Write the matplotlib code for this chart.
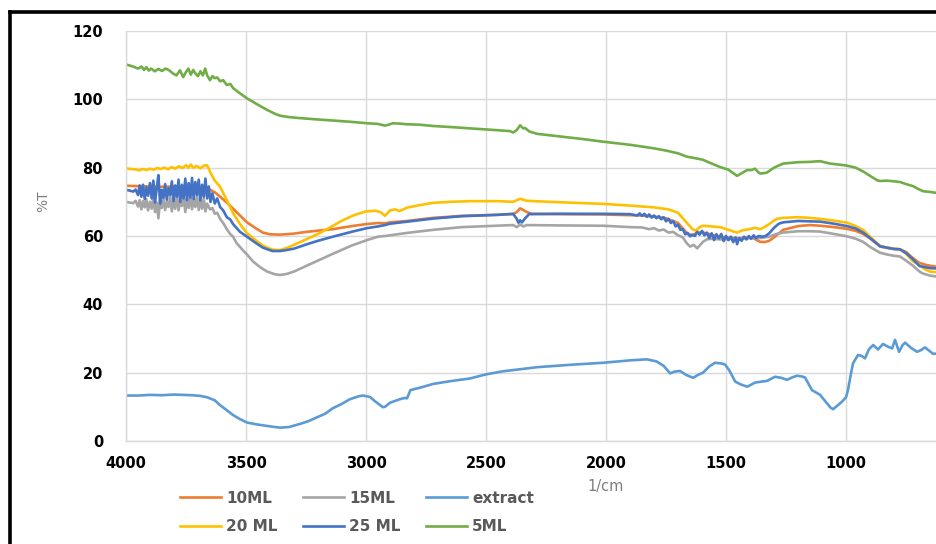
import matplotlib
matplotlib.use("Agg")
import matplotlib.pyplot as plt
from matplotlib.lines import Line2D

# wavenumber (1/cm) and %T
wn_5 = [4000, 3970, 3950, 3935, 3925, 3915, 3905, 3895, 3880, 3865, 3850, 3835, 3820, 3805, 3790,
        3775, 3762, 3750, 3740, 3730, 3720, 3710, 3700, 3690, 3680, 3670, 3662, 3650, 3640, 3630,
        3620, 3608, 3595, 3580, 3565, 3554, 3530, 3496, 3450, 3412, 3380, 3358, 3320, 3275, 3200,
        3138, 3060, 2996, 2950, 2921, 2905, 2888, 2860, 2829, 2780, 2721, 2650, 2567, 2480, 2400,
        2387, 2372, 2358, 2345, 2337, 2320, 2287, 2200, 2100, 2012, 1900, 1804, 1750, 1700, 1662,
        1630, 1596, 1560, 1525, 1490, 1454, 1430, 1412, 1395, 1379, 1365, 1358, 1340, 1329, 1300,
        1262, 1200, 1150, 1108, 1085, 1067, 1030, 996, 960, 929, 900, 870, 858, 830, 800, 775, 750,
        721, 700, 679, 650, 621]
t_5 = [110.2, 109.6, 109.0, 109.6, 108.6, 109.4, 108.4, 109.0, 108.2, 108.9, 108.3, 109.0, 108.5,
       107.6, 107.0, 108.5, 106.5, 108.0, 109.0, 107.2, 108.6, 107.5, 106.8, 108.2, 107.0, 109.0,
       107.0, 105.6, 106.8, 106.2, 106.4, 105.3, 105.6, 104.2, 104.5, 103.3, 102.0, 100.3, 98.4,
       96.9, 95.8, 95.2, 94.8, 94.5, 94.1, 93.8, 93.4, 93.0, 92.8, 92.3, 92.6, 93.0, 92.9, 92.7,
       92.6, 92.2, 91.9, 91.5, 91.1, 90.7, 90.3, 91.0, 92.4, 91.5, 91.6, 90.6, 89.9, 89.2, 88.4,
       87.6, 86.7, 85.7, 85.0, 84.2, 83.2, 82.8, 82.3, 81.2, 80.2, 79.4, 77.6, 78.6, 79.3, 79.3,
       79.7, 78.6, 78.3, 78.4, 78.6, 80.0, 81.2, 81.6, 81.7, 81.9, 81.5, 81.2, 80.9, 80.6, 80.0,
       78.9, 77.6, 76.3, 76.1, 76.2, 76.0, 75.8, 75.2, 74.6, 73.8, 73.1, 72.9, 72.6]

wn_20 = [4000, 3980, 3960, 3945, 3930, 3915, 3900, 3885, 3870, 3855, 3840, 3825, 3810, 3795, 3780,
         3765, 3750, 3740, 3730, 3720, 3705, 3690, 3675, 3662, 3650, 3630, 3608, 3580, 3554, 3525,
         3496, 3460, 3430, 3390, 3358, 3330, 3300, 3250, 3200, 3150, 3100, 3050, 3000, 2960, 2940,
         2921, 2900, 2880, 2860, 2829, 2780, 2721, 2650, 2567, 2450, 2387, 2358, 2330, 2200, 2012,
         1900, 1804, 1740, 1700, 1680, 1660, 1640, 1625, 1610, 1596, 1560, 1525, 1490, 1454, 1430,
         1412, 1390, 1379, 1358, 1340, 1320, 1290, 1262, 1200, 1150, 1108, 1050, 996, 960, 929, 900,
         858, 830, 800, 775, 750, 721, 694, 670, 650, 621]
t_20 = [79.8, 79.6, 79.5, 79.2, 79.6, 79.3, 79.7, 79.4, 79.9, 79.6, 80.0, 79.5, 80.2, 79.7, 80.4,
        79.9, 80.7, 80.0, 80.9, 80.0, 80.5, 79.8, 80.6, 80.7, 78.8, 76.2, 74.4, 70.5, 66.7, 63.5,
        60.8, 58.8, 57.2, 56.0, 55.9, 56.5, 57.4, 59.0, 60.6, 62.5, 64.5, 66.1, 67.2, 67.4, 67.0,
        65.9, 67.5, 67.8, 67.3, 68.3, 69.0, 69.7, 70.0, 70.2, 70.2, 70.0, 70.9, 70.3, 69.9, 69.4,
        68.9, 68.4, 67.8, 66.8, 65.2, 63.6, 62.0, 61.6, 62.6, 63.0, 62.8, 62.6, 61.8, 61.0, 61.7,
        61.9, 62.2, 62.4, 62.0, 62.6, 63.5, 65.0, 65.3, 65.5, 65.3, 65.0, 64.5, 63.9, 62.9, 61.8,
        59.8, 57.1, 56.6, 56.3, 56.1, 54.8, 52.6, 51.5, 50.2, 49.6, 49.4]

wn_10 = [4000, 3950, 3900, 3850, 3800, 3750, 3700, 3662, 3630, 3608, 3580, 3554, 3525, 3496, 3460,
         3430, 3400, 3358, 3300, 3250, 3138, 3050, 2996, 2950, 2921, 2900, 2829, 2721, 2600, 2450,
         2387, 2372, 2358, 2345, 2330, 2310, 2200, 2012, 1850, 1800, 1750, 1700, 1680, 1660, 1640,
         1620, 1596, 1560, 1525, 1490, 1454, 1420, 1390, 1358, 1340, 1320, 1300, 1262, 1200, 1150,
         1108, 1050, 996, 960, 929, 900, 858, 830, 800, 775, 750, 721, 694, 670, 650, 621]
t_10 = [74.7, 74.6, 74.5, 74.4, 74.5, 74.3, 74.2, 74.0, 72.8, 71.5, 69.8, 68.0, 66.0, 64.0, 62.3,
        61.0, 60.5, 60.4, 60.7, 61.2, 62.0, 63.0, 63.5, 63.8, 63.7, 64.0, 64.4, 65.3, 65.9, 66.2,
        66.4, 67.0, 68.1, 67.6, 67.0, 66.5, 66.4, 66.3, 66.0, 65.7, 65.2, 63.8, 62.2, 60.6, 60.2,
        61.0, 61.0, 60.4, 59.8, 59.5, 59.3, 59.5, 59.5, 58.3, 58.2, 58.6, 59.6, 61.8, 62.9, 63.2,
        63.0, 62.6, 62.1, 61.5, 60.6, 59.3, 56.9, 56.5, 56.2, 56.1, 55.3, 53.5, 52.1, 51.6, 51.3,
        51.0]

wn_25 = [4000, 3985, 3970, 3960, 3950, 3943, 3936, 3929, 3922, 3915, 3908, 3900, 3893, 3886, 3879,
         3872, 3865, 3858, 3851, 3844, 3837, 3830, 3823, 3816, 3809, 3802, 3795, 3788, 3781, 3774,
         3767, 3760, 3753, 3746, 3739, 3732, 3725, 3718, 3711, 3704, 3697, 3690, 3683, 3676, 3669,
         3662, 3655, 3648, 3640, 3630, 3620, 3608, 3595, 3580, 3565, 3554, 3525, 3496, 3460, 3430,
         3390, 3358, 3330, 3300, 3250, 3200, 3138, 3050, 2996, 2950, 2921, 2900, 2829, 2721, 2600,
         2450, 2387, 2372, 2365, 2358, 2350, 2337, 2320, 2200, 2012, 1900, 1870, 1860, 1850, 1840,
         1830, 1820, 1810, 1800, 1790, 1780, 1770, 1760, 1750, 1740, 1730, 1720, 1710, 1700, 1690,
         1680, 1670, 1660, 1650, 1640, 1630, 1620, 1610, 1600, 1590, 1580, 1570, 1560, 1550, 1540,
         1530, 1520, 1510, 1500, 1490, 1480, 1470, 1460, 1454, 1445, 1435, 1425, 1415, 1405, 1395,
         1385, 1375, 1365, 1350, 1335, 1320, 1300, 1280, 1262, 1200, 1150, 1108, 1050, 996, 960,
         929, 900, 858, 830, 800, 775, 750, 721, 694, 679, 650, 621]
t_25 = [73.5, 73.3, 73.0, 73.6, 72.0, 74.8, 71.5, 75.0, 70.8, 74.2, 71.8, 75.5, 71.0, 76.2, 69.8,
        74.0, 77.8, 69.5, 73.5, 71.2, 75.2, 70.6, 74.0, 72.0, 76.0, 70.2, 74.8, 71.5, 76.5, 70.0,
        75.0, 71.0, 76.8, 70.5, 75.5, 71.2, 77.0, 70.8, 75.8, 72.0, 76.5, 70.4, 75.0, 71.5, 76.8,
        71.0, 74.5, 70.0, 72.5, 69.5, 71.0, 68.5, 67.5, 65.5, 64.8, 63.5, 61.2, 59.8, 58.0, 56.6,
        55.6, 55.6, 55.9, 56.3, 57.5, 58.6, 59.8, 61.4, 62.3, 62.8, 63.2, 63.6, 64.2, 65.1, 65.8,
        66.2, 66.5, 65.0, 63.9, 64.6, 64.0, 65.2, 66.4, 66.5, 66.5, 66.4, 66.0, 66.6, 65.9, 66.5,
        65.6, 66.3, 65.4, 66.0, 65.2, 65.8, 64.9, 65.5, 64.3, 65.0, 63.8, 64.4, 62.8, 63.3, 61.8,
        62.0, 60.5, 60.9, 59.9, 60.4, 60.0, 61.2, 60.4, 61.5, 60.2, 61.0, 59.4, 60.8, 58.8, 60.5,
        59.3, 60.6, 58.5, 60.0, 58.8, 59.8, 58.2, 59.6, 57.6, 59.4, 58.6, 59.8, 59.0, 60.0, 59.2,
        60.2, 59.4, 60.0, 59.8, 60.0, 60.8, 62.4, 63.6, 64.0, 64.4, 64.3, 64.2, 63.6, 62.9, 62.2,
        61.0, 59.4, 57.0, 56.6, 56.2, 56.1, 55.0, 53.2, 51.2, 51.0, 50.6, 50.5]

wn_15 = [4000, 3985, 3970, 3960, 3950, 3943, 3936, 3929, 3922, 3915, 3908, 3900, 3893, 3886, 3879,
         3872, 3865, 3858, 3851, 3844, 3837, 3830, 3823, 3816, 3809, 3802, 3795, 3788, 3781, 3774,
         3767, 3760, 3753, 3746, 3739, 3732, 3725, 3718, 3711, 3704, 3697, 3690, 3683, 3676, 3669,
         3662, 3650, 3640, 3630, 3620, 3608, 3595, 3580, 3565, 3554, 3540, 3525, 3510, 3496, 3470,
         3440, 3412, 3380, 3358, 3330, 3300, 3250, 3200, 3138, 3060, 2996, 2950, 2921, 2900, 2829,
         2721, 2600, 2450, 2387, 2372, 2358, 2345, 2330, 2200, 2012, 1900, 1850, 1820, 1800, 1780,
         1760, 1740, 1720, 1700, 1680, 1665, 1650, 1635, 1620, 1605, 1596, 1580, 1560, 1525, 1490,
         1454, 1420, 1390, 1358, 1320, 1290, 1262, 1200, 1150, 1108, 1050, 996, 960, 929, 900, 858,
         830, 800, 775, 750, 721, 694, 679, 650, 621]
t_15 = [70.0, 69.8, 69.6, 70.3, 68.6, 70.5, 67.8, 70.2, 68.4, 70.8, 67.5, 70.0, 68.0, 71.2, 67.0,
        69.8, 65.2, 70.5, 68.2, 71.0, 67.6, 70.0, 68.5, 71.5, 67.2, 70.6, 68.0, 71.8, 67.5, 70.3,
        68.8, 72.0, 67.0, 71.0, 68.2, 72.2, 67.8, 70.8, 68.5, 71.8, 67.6, 70.4, 68.0, 71.0, 67.2,
        69.5, 67.8, 68.2, 66.5, 66.8, 65.0, 63.8, 62.0, 60.5, 59.8, 58.0, 56.8, 55.6, 54.6, 52.5,
        50.8, 49.6, 48.8, 48.6, 48.9, 49.6, 51.2, 52.8, 54.8, 57.2, 58.8, 59.8, 60.0, 60.2, 60.9,
        61.8, 62.6, 63.0, 63.2, 62.6, 63.4, 62.8, 63.2, 63.1, 63.0, 62.6, 62.5, 62.0, 62.3, 61.6,
        61.9, 61.0, 61.2, 60.2, 59.6, 58.0, 56.9, 57.4, 56.4, 57.6, 58.3, 59.0, 59.2, 59.0, 59.1,
        59.2, 59.3, 59.4, 59.4, 59.8, 60.6, 61.0, 61.4, 61.4, 61.3, 60.6, 59.9, 59.2, 58.3, 56.8,
        55.1, 54.6, 54.2, 54.0, 52.8, 51.3, 49.6, 49.0, 48.4, 48.1]

wn_ex = [4000, 3950, 3900, 3850, 3800, 3762, 3725, 3690, 3662, 3630, 3608, 3580, 3554, 3525, 3496,
         3450, 3412, 3380, 3358, 3320, 3275, 3240, 3205, 3170, 3138, 3100, 3068, 3030, 3012, 2984,
         2960, 2930, 2921, 2900, 2860, 2840, 2829, 2815, 2775, 2721, 2650, 2567, 2500, 2430, 2358,
         2287, 2150, 2012, 1900, 1830, 1790, 1760, 1733, 1715, 1692, 1665, 1637, 1615, 1596, 1570,
         1546, 1520, 1504, 1485, 1462, 1440, 1412, 1395, 1379, 1350, 1329, 1296, 1270, 1246, 1225,
         1204, 1185, 1171, 1142, 1125, 1108, 1085, 1065, 1054, 1035, 1017, 1000, 992, 980, 971, 950,
         935, 921, 905, 887, 867, 846, 825, 808, 796, 779, 765, 754, 730, 704, 688, 671, 655, 637,
         621]
t_ex = [13.3, 13.3, 13.5, 13.4, 13.6, 13.5, 13.4, 13.2, 12.8, 11.9, 10.5, 9.0, 7.6, 6.4, 5.4, 4.8,
        4.4, 4.1, 3.9, 4.1, 5.0, 5.8, 6.9, 8.0, 9.6, 10.9, 12.2, 13.1, 13.3, 12.9, 11.5, 9.9, 10.0,
        11.2, 12.2, 12.6, 12.5, 14.9, 15.6, 16.7, 17.5, 18.3, 19.5, 20.4, 21.0, 21.6, 22.3, 22.9,
        23.6, 23.9, 23.3, 22.0, 19.8, 20.3, 20.5, 19.3, 18.5, 19.4, 20.0, 21.8, 22.9, 22.7, 22.4,
        20.5, 17.4, 16.6, 15.9, 16.5, 17.1, 17.4, 17.6, 18.8, 18.5, 17.9, 18.6, 19.1, 18.9, 18.6,
        14.9, 14.2, 13.5, 11.5, 9.8, 9.3, 10.4, 11.5, 12.8, 14.9, 19.5, 22.7, 25.2, 24.9, 24.2,
        26.8, 28.1, 26.8, 28.4, 27.6, 27.1, 29.6, 26.1, 28.0, 28.8, 27.3, 26.1, 26.6, 27.4, 26.5,
        25.5, 25.6]

y_ticks = [0, 20, 40, 60, 80, 100, 120]
x_ticks = [4000, 3500, 3000, 2500, 2000, 1500, 1000]

W, H = 937, 544
fig = plt.figure(figsize=(W / 100, H / 100), dpi=100)
ax = fig.add_axes([126 / W, 1 - 441 / H, (W - 126) / W, 410 / H])

lw = 1.9
l10, = ax.plot(wn_10, t_10, color='#ED7D31', lw=lw, label='10ML')
l15, = ax.plot(wn_15, t_15, color='#A5A5A5', lw=lw, label='15ML')
lex, = ax.plot(wn_ex, t_ex, color='#5B9BD5', lw=lw, label='extract')
l20, = ax.plot(wn_20, t_20, color='#FFC000', lw=lw, label='20 ML')
l25, = ax.plot(wn_25, t_25, color='#4472C4', lw=lw, label='25 ML')
l5, = ax.plot(wn_5, t_5, color='#70AD47', lw=lw, label='5ML')

ax.set_xlim(4000, 621)
ax.set_ylim(0, 120)
ax.set_xticks(x_ticks)
ax.set_yticks(y_ticks)
ax.grid(color='#d9d9d9', lw=1)
ax.set_axisbelow(True)
for s in ['top', 'right']:
    ax.spines[s].set_visible(False)
for s in ['left', 'bottom']:
    ax.spines[s].set_color('#d9d9d9')
    ax.spines[s].set_linewidth(1)
ax.tick_params(length=0, labelsize=10.5, colors='black')
ax.tick_params(axis='y', pad=16.5)
ax.tick_params(axis='x', pad=11)
for lab in ax.get_xticklabels() + ax.get_yticklabels():
    lab.set_fontweight('bold')
    lab.set_family('DejaVu Sans')

fig.text(43 / W, 1 - 201 / H, '%T', rotation=90, ha='center', va='center',
         color='#7f7f7f', fontsize=10)
fig.text(606 / W, 1 - 486 / H, '1/cm', ha='center', va='center',
         color='#7f7f7f', fontsize=10.5)

leg = fig.legend([l10, l20, l15, l25, lex, l5],
                 ['10ML', '20 ML', '15ML', '25 ML', 'extract', '5ML'],
                 ncol=3, loc='upper left', bbox_to_anchor=(166 / W, 1 - 477 / H),
                 frameon=False, handlelength=2.7, handletextpad=0.33,
                 columnspacing=1.66, labelspacing=0.88,
                 prop={'family': 'DejaVu Sans', 'weight': 'bold', 'size': 11})
for t in leg.get_texts():
    t.set_color('#595959')

# black frame around the picture (cut off at right and bottom)
fig.add_artist(Line2D([10 / W, 10 / W], [0, 1 - 11.5 / H], color='black', lw=2.6,
                      transform=fig.transFigure))
fig.add_artist(Line2D([10 / W, 1], [1 - 11.5 / H, 1 - 11.5 / H], color='black', lw=2.6,
                      transform=fig.transFigure))

fig.savefig('out.png', dpi=100)
